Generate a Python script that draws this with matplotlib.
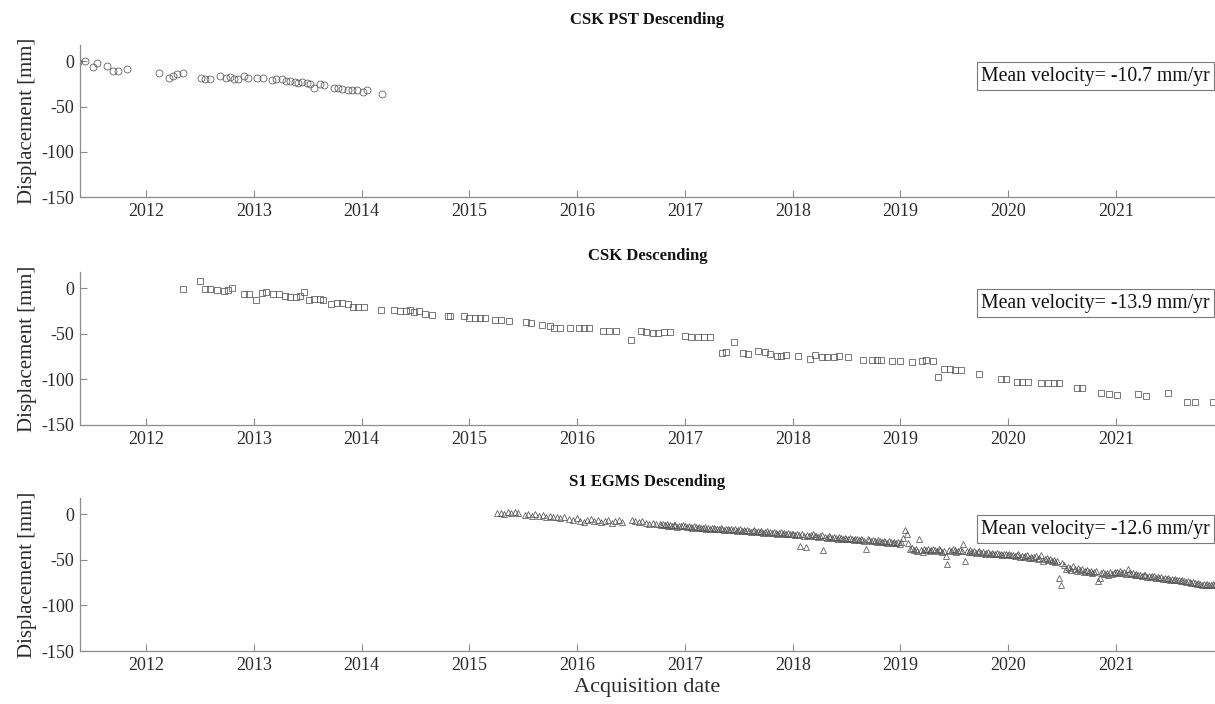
import numpy as np
import matplotlib
matplotlib.use("Agg")
import matplotlib.pyplot as plt

plt.rcParams['font.family'] = ['Liberation Serif', 'DejaVu Serif']
plt.rcParams['axes.unicode_minus'] = False

# ---------------- data ----------------
titles = ["CSK PST Descending", "CSK Descending", "S1 EGMS Descending"]
velocities = ["Mean velocity= -10.7 mm/yr", "Mean velocity= -13.9 mm/yr", "Mean velocity= -12.6 mm/yr"]
year_ticks = [2012, 2013, 2014, 2015, 2016, 2017, 2018, 2019, 2020, 2021]
disp_ticks = [0, -50, -100, -150]

# CSK PST Descending (decimal year, mm)
pst_t = [2011.37, 2011.43, 2011.51, 2011.55, 2011.64, 2011.69, 2011.74, 2011.82,
         2012.12, 2012.21, 2012.25, 2012.29, 2012.34, 2012.51, 2012.55, 2012.59,
         2012.69, 2012.74, 2012.78, 2012.82, 2012.85, 2012.91, 2012.95, 2013.03,
         2013.09, 2013.17, 2013.21, 2013.26, 2013.30, 2013.34, 2013.38, 2013.41,
         2013.45, 2013.49, 2013.52, 2013.56, 2013.61, 2013.65, 2013.74, 2013.78,
         2013.82, 2013.87, 2013.91, 2013.96, 2014.01, 2014.05, 2014.19]
pst_d = [-1, 0, -6.5, -2, -5, -11, -11, -8,
         -12.7, -18, -16, -14.5, -13, -18.5, -20, -19.5,
         -16.7, -18, -17.4, -20, -20, -16.3, -18, -18.5,
         -19, -21, -19.6, -20, -21.7, -22, -23, -24,
         -23, -23.5, -25, -30, -25, -26, -29, -29,
         -30.4, -32, -32, -32, -34, -32, -36]

# CSK Descending (decimal year, mm)
csk_t = [2012.34, 2012.50, 2012.55, 2012.59, 2012.66, 2012.72, 2012.76, 2012.80,
         2012.91, 2012.96, 2013.02, 2013.08, 2013.11, 2013.18, 2013.23, 2013.29,
         2013.34, 2013.39, 2013.43, 2013.47, 2013.51, 2013.56, 2013.61, 2013.64,
         2013.72, 2013.77, 2013.82, 2013.87, 2013.92, 2013.97, 2014.02, 2014.18,
         2014.30, 2014.36, 2014.41, 2014.45, 2014.49, 2014.53, 2014.59, 2014.65,
         2014.80, 2014.82, 2014.95, 2015.00, 2015.05, 2015.10, 2015.15, 2015.24,
         2015.29, 2015.37, 2015.53, 2015.57, 2015.67, 2015.75, 2015.79, 2015.84,
         2015.93, 2016.02, 2016.06, 2016.11, 2016.24, 2016.30, 2016.36, 2016.50,
         2016.59, 2016.64, 2016.70, 2016.75, 2016.81, 2016.86, 2017.00, 2017.06,
         2017.12, 2017.18, 2017.23, 2017.34, 2017.38, 2017.46, 2017.54, 2017.59,
         2017.68, 2017.74, 2017.79, 2017.85, 2017.89, 2017.94, 2018.05, 2018.16,
         2018.21, 2018.27, 2018.32, 2018.38, 2018.43, 2018.51, 2018.65, 2018.74,
         2018.78, 2018.82, 2018.92, 2019.00, 2019.11, 2019.20, 2019.24, 2019.30,
         2019.35, 2019.40, 2019.46, 2019.51, 2019.56, 2019.73, 2019.93, 2019.98,
         2020.08, 2020.13, 2020.18, 2020.30, 2020.37, 2020.42, 2020.47, 2020.64,
         2020.68, 2020.86, 2020.93, 2021.01, 2021.20, 2021.28, 2021.48, 2021.66,
         2021.73, 2021.90]
csk_d = [-1, 8, -1, -0.7, -1.5, -3, -2, 0,
         -6, -6.6, -12.5, -5, -4.4, -6.6, -6.6, -8.8,
         -9.5, -10, -8, -4, -12.5, -12, -12, -13,
         -17, -16, -15.8, -17, -20, -20, -20, -23.5,
         -23.5, -25, -25, -24, -26, -25, -28, -28.7,
         -30, -30, -30, -32.5, -32, -32, -32.5, -35,
         -35, -35.5, -36.7, -38.5, -40, -41.5, -43, -43,
         -43.6, -43.6, -43, -43.6, -47, -46.3, -46.3, -57,
         -47, -48, -48.5, -48.5, -47.7, -47.7, -51.8, -53.6,
         -53, -53.6, -53.6, -71, -70, -59, -71, -72.5,
         -69, -70, -72.5, -74.5, -74, -72.8, -74.5, -78,
         -73.5, -75, -75, -75, -74.5, -75, -79, -79,
         -79, -79, -80, -80, -80.5, -80, -79, -80,
         -97, -88.6, -88.6, -89.7, -89.7, -94, -99, -99,
         -103, -103, -103, -104, -104, -103.6, -104, -109,
         -109.5, -115, -116.5, -117, -116.5, -118, -114.5, -125,
         -125, -125]

# S1 EGMS Descending: acquisition blocks (start date, revisit days, displacement mm)
s1_blocks = [
    ("2015-04-05", 12, [1, 2, 0.5, 2.5, 1.5, 3, 1]),
    ("2015-07-08", 12, [-1, 0, -1.5, 0.5, -2, -1, -2.5, -1.5, -3, -2.5, -4, -3]),
    ("2015-12-06", 12, [-5, -6, -4.5, -7, -8, -6.5, -5, -7.5, -6, -8.5, -7, -6, -9, -7.5, -6.5, -8]),
    ("2016-07-04", 12, [-6, -7, -8.5, -7, -9, -10, -9, -11]),
    ("2016-10-07", 6, [-10, -11.5, -10.5, -12, -11, -12.5, -11.5, -13, -12, -11.5, -13.5, -12.5, -13, -12]),
    ("2017-01-02", 6, [-13, -14, -12.5, -13.5, -14.5, -13, -14, -15, -13.5, -14.5,
                       -15, -14, -15.5, -14.5, -16, -15, -14.5, -16, -15.5, -16.5,
                       -15, -16, -17, -16.5, -15.5, -17, -16, -17.5, -16.5, -18,
                       -17, -16.5, -18, -17.5, -18.5, -17, -18, -19, -18.5, -17.5,
                       -19, -18, -19.5, -18.5, -20, -19, -18.5, -20, -19.5, -20.5,
                       -19, -20, -21, -20.5, -19.5, -21, -20, -21.5, -20.5, -22, -21]),
    ("2018-01-03", 6, [-21.5, -22.5, -21, -23, -35, -22, -23.5, -36, -22.5, -24,
                       -23, -22, -24, -23.5, -25, -24, -23, -39, -24.5, -25.5,
                       -24, -25, -26, -24.5, -25.5, -26.5, -25, -26, -27, -25.5,
                       -26.5, -27.5, -26, -27, -28, -26.5, -27.5, -28.5, -27, -28,
                       -29, -38.5, -27.5, -28.5, -29.5, -28, -29, -30, -28.5, -29.5,
                       -30.5, -29, -30, -31, -29.5, -30.5, -31, -30, -31.5, -30.5, -32]),
    ("2019-01-04", 6, [-30, -26, -17, -22, -31, -38, -37, -39, -38.5, -40,
                       -27.5, -39, -41, -38, -39.5, -38, -40, -39, -37.5, -39,
                       -40.5, -38.5, -39.5, -41, -40, -46, -55, -39, -40, -38.5,
                       -39.5, -41, -40, -39, -40.5, -33, -51, -40, -41, -39.5,
                       -41.5, -40.5, -42, -41, -40, -42.5, -41.5, -43, -42, -41,
                       -43, -42.5, -44, -43, -42, -44, -43.5, -45, -44, -43, -45]),
    ("2020-01-05", 6, [-44, -45, -44.5, -46, -45, -44, -46.5, -45.5, -47, -46,
                       -45, -47.5, -46.5, -48, -47, -46, -48.5, -47.5, -45, -51.5,
                       -49, -48, -50, -49.5, -51, -50, -52, -51, -70, -77,
                       -53, -56, -60, -58, -59, -61, -57, -60, -62, -59,
                       -61, -60, -63, -62, -61, -63.5, -62.5, -64, -63, -62,
                       -73, -70, -64, -63, -65, -64, -66, -63.5, -65, -64.5, -63]),
    ("2021-01-04", 6, [-63, -64, -62.5, -64.5, -63.5, -65, -60, -64, -65.5, -64.5,
                       -66, -65, -67, -66, -68, -67, -66.5, -68.5, -67.5, -69,
                       -68, -67.5, -69.5, -68.5, -70, -69, -70.5, -69.5, -71, -70,
                       -71.5, -70.5, -72, -71, -72.5, -71.5, -73, -72, -73.5, -74,
                       -73, -74.5, -75, -74, -75.5, -76, -75, -76.5, -77, -76,
                       -77.5, -76.5, -78, -77, -76, -77.5, -76.5, -75]),
]


def to_decimal_year(d64):
    d64 = np.asarray(d64, dtype="datetime64[D]")
    years = d64.astype("datetime64[Y]")
    start = years.astype("datetime64[D]")
    nxt = (years + 1).astype("datetime64[D]")
    return years.astype(int) + 1970 + (d64 - start).astype(float) / (nxt - start).astype(float)


s1_t, s1_d = [], []
for start, step, vals in s1_blocks:
    dates = np.datetime64(start) + np.arange(len(vals)) * step
    s1_t.extend(to_decimal_year(dates))
    s1_d.extend(vals)

series = [(pst_t, pst_d, "o", 5.0), (csk_t, csk_d, "s", 4.0), (s1_t, s1_d, "^", 5.0)]

# ---------------- figure ----------------
fig = plt.figure(figsize=(12.15, 7.04), dpi=100)
W, H = 1215, 704
left, right = 80, 1215
panels = [(45, 197), (272, 425), (498, 651)]
title_pads = [15, 9, 9]
axcol = "#8c8c8c"
txtcol = "#2b2b2b"

for i, ((top, bot), (t, d, mk, ms)) in enumerate(zip(panels, series)):
    ax = fig.add_axes([left / W, 1 - bot / H, (right - left) / W, (bot - top) / H])
    ax.plot(t, d, linestyle="none", marker=mk, markersize=ms, markerfacecolor="none",
            markeredgecolor="#555555", markeredgewidth=0.55)
    ax.set_xlim(2011.388, 2021.918)
    ax.set_ylim(-150, 18)
    ax.set_xticks(year_ticks)
    ax.set_xticklabels([str(y) for y in year_ticks])
    ax.set_yticks(disp_ticks)
    ax.set_yticklabels([str(v) for v in disp_ticks])
    for s in ["top", "right"]:
        ax.spines[s].set_visible(False)
    for s in ["left", "bottom"]:
        ax.spines[s].set_color(axcol)
        ax.spines[s].set_linewidth(0.9)
    ax.tick_params(direction="in", length=5, width=0.8, color=axcol,
                   labelsize=13, labelcolor=txtcol, pad=4)
    ax.set_title(titles[i], fontsize=12, fontweight="bold", color="#111111", pad=title_pads[i])
    ax.set_ylabel("Displacement [mm]", fontsize=15, color=txtcol, labelpad=3)
    ax.text(0.9955, 0.796, velocities[i], transform=ax.transAxes, ha="right", va="center",
            fontsize=14.2, color="#111111",
            bbox=dict(boxstyle="square,pad=0.22", facecolor="white", edgecolor="#7a7a7a", linewidth=0.8))
    if i == 2:
        ax.set_xlabel("Acquisition date", fontsize=16, color=txtcol, labelpad=3)

fig.savefig("out.png", dpi=100)
